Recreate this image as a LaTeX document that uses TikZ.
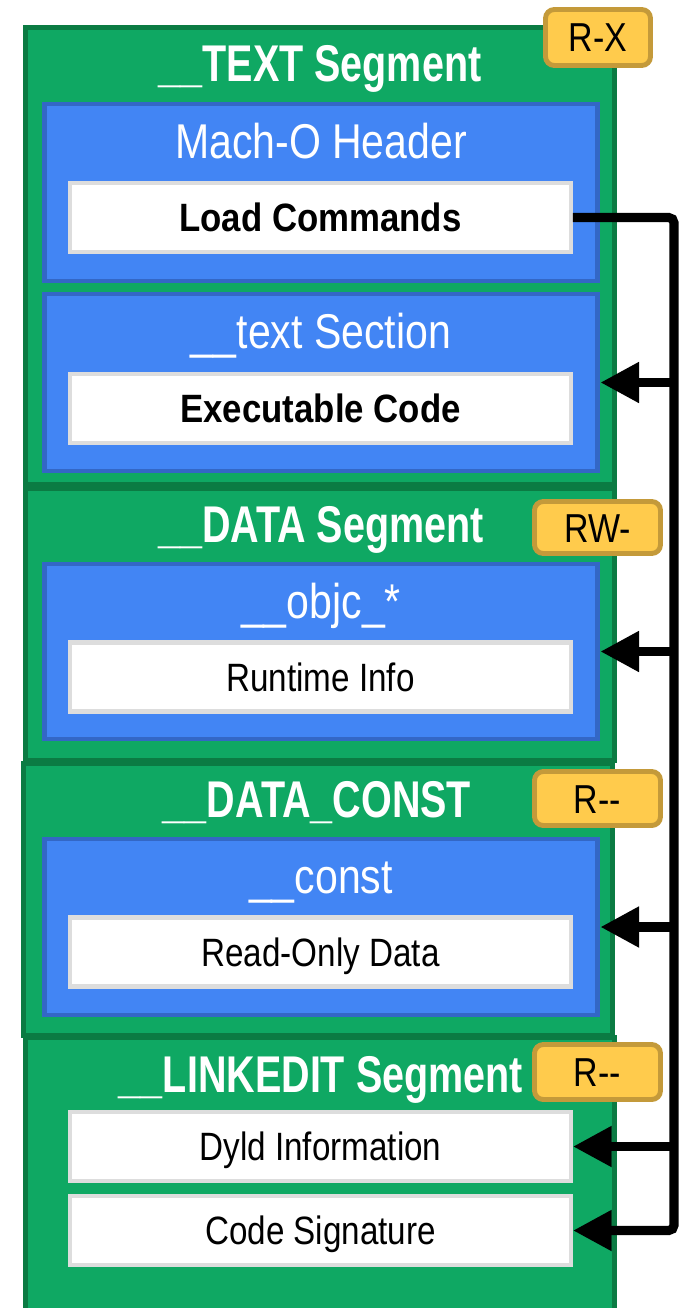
\documentclass[tikz,border=0pt]{standalone}
\usepackage{fontspec}
\setmainfont{Liberation Sans}[FakeStretch=0.84]
\newfontfamily\headfont{Liberation Sans}[FakeStretch=0.765]
\newfontfamily\keyfont{Liberation Sans}[FakeStretch=0.88]
\usepackage{tikz}
\usetikzlibrary{arrows.meta}
\definecolor{segfill}{HTML}{0FA863}
\definecolor{segline}{HTML}{0B7B43}
\definecolor{secfill}{HTML}{4285F4}
\definecolor{secline}{HTML}{3367C6}
\definecolor{entline}{HTML}{DDDDDD}
\definecolor{permfill}{HTML}{FFCB4C}
\definecolor{permline}{HTML}{C49A3A}

\begin{document}
\begin{tikzpicture}[x = 0.02cm, y = -0.02cm,
    segment/.style = {rectangle, draw = segline, fill = segfill, line width = 2.8pt, inner sep = 0pt, minimum width = 11.8cm},
    section/.style = {rectangle, draw = secline, fill = secfill, line width = 2.8pt, inner sep = 0pt, minimum width = 11.08cm},
    entry/.style = {rectangle, draw = entline, fill = white, line width = 2.3pt, minimum width = 10.02cm, minimum height = 1.38cm,
                    text height = 16pt, text depth = 0pt, font = \fontsize{22.5}{25}\selectfont},
    perm/.style = {rectangle, rounded corners = 5pt, draw = permline, fill = permfill, line width = 2.8pt,
                   text height = 16.5pt, text depth = 0pt, font = \fontsize{23}{25}\selectfont},
    segtitle/.style = {anchor = base, text = white, inner sep = 0pt, font = \headfont\bfseries\fontsize{29.4}{32}\selectfont},
    sectitle/.style = {anchor = base, text = white, inner sep = 0pt, font = \fontsize{27.8}{30}\selectfont},
    wire/.style = {line width = 5.2pt, -{Triangle[length = 22pt, width = 22pt]}}]
  \useasboundingbox (0, 0) rectangle (685, 1308);
  \clip (0, 0) rectangle (685, 1308);

  % segments
  \node [segment, minimum height = 9.16cm] (segtext) at (320, 256){};
  \node [segment, minimum height = 5.44cm] (segdata) at (320, 624.5){};
  \node [segment, minimum height = 5.44cm] (segconst) at (318, 899.5){};
  \node [segment, minimum height = 5.72cm] (seglink) at (320, 1180){};

  % sections
  \node [section, minimum height = 3.54cm] (hdr) at (321, 192.5){};
  \node [section, minimum height = 3.54cm] (textsec) at (321, 382.5){};
  \node [section, minimum height = 3.5cm] (objc) at (321, 651.5){};
  \node [section, minimum height = 3.52cm] (const) at (321, 927){};

  \node [entry] (lc) at (320.5, 217.5){\keyfont\bfseries Load Commands};
  \node [entry] (exe) at (320.5, 408.5){\keyfont\bfseries Executable Code};
  \node [entry] (rt) at (320.5, 677){Runtime Info};
  \node [entry] (ro) at (320.5, 952){Read-Only Data};
  \node [entry] (dyld) at (320.5, 1146.5){Dyld Information};
  \node [entry] (sig) at (320.5, 1230.5){Code Signature};

  % titles
  \node [segtitle] (ttext) at (320, 82){\_\_TEXT Segment};
  \node [segtitle] (tdata) at (321, 542){\_\_DATA Segment};
  \node [segtitle] (tconst) at (317, 817){\_\_DATA\_CONST};
  \node [segtitle] (tlink) at (321, 1092){\_\_LINKEDIT Segment};
  \node [sectitle] (thdr) at (321, 158){Mach-O Header};
  \node [sectitle] (ttextsec) at (321, 348){\_\_text Section};
  \node [sectitle] (tobjc) at (321, 618){\_\_objc\_*};
  \node [sectitle] (tconstsec) at (321, 893){\_\_const};

  % permissions
  \node [perm, minimum width = 2.1cm, minimum height = 1.12cm] (px) at (598, 37.5){R-X};
  \node [perm, minimum width = 2.52cm, minimum height = 1.04cm] (pw) at (597.5, 527.5){RW-};
  \node [perm, minimum width = 2.52cm, minimum height = 1.08cm] (pc) at (597.5, 798.5){R-{}-};
  \node [perm, minimum width = 2.52cm, minimum height = 1.1cm] (pl) at (597.5, 1072){R-{}-};

  % load command references
  \coordinate (railtop) at (674, 217.5);
  \draw [wire, rounded corners = 3pt] (lc.east) -- (railtop) |- (sig.east);
  \draw [wire] (railtop |- textsec.east) -- (textsec.east);
  \draw [wire] (railtop |- objc.east) -- (objc.east);
  \draw [wire] (railtop |- const.east) -- (const.east);
  \draw [wire] (railtop |- dyld.east) -- (dyld.east);
\end{tikzpicture}
\end{document}
